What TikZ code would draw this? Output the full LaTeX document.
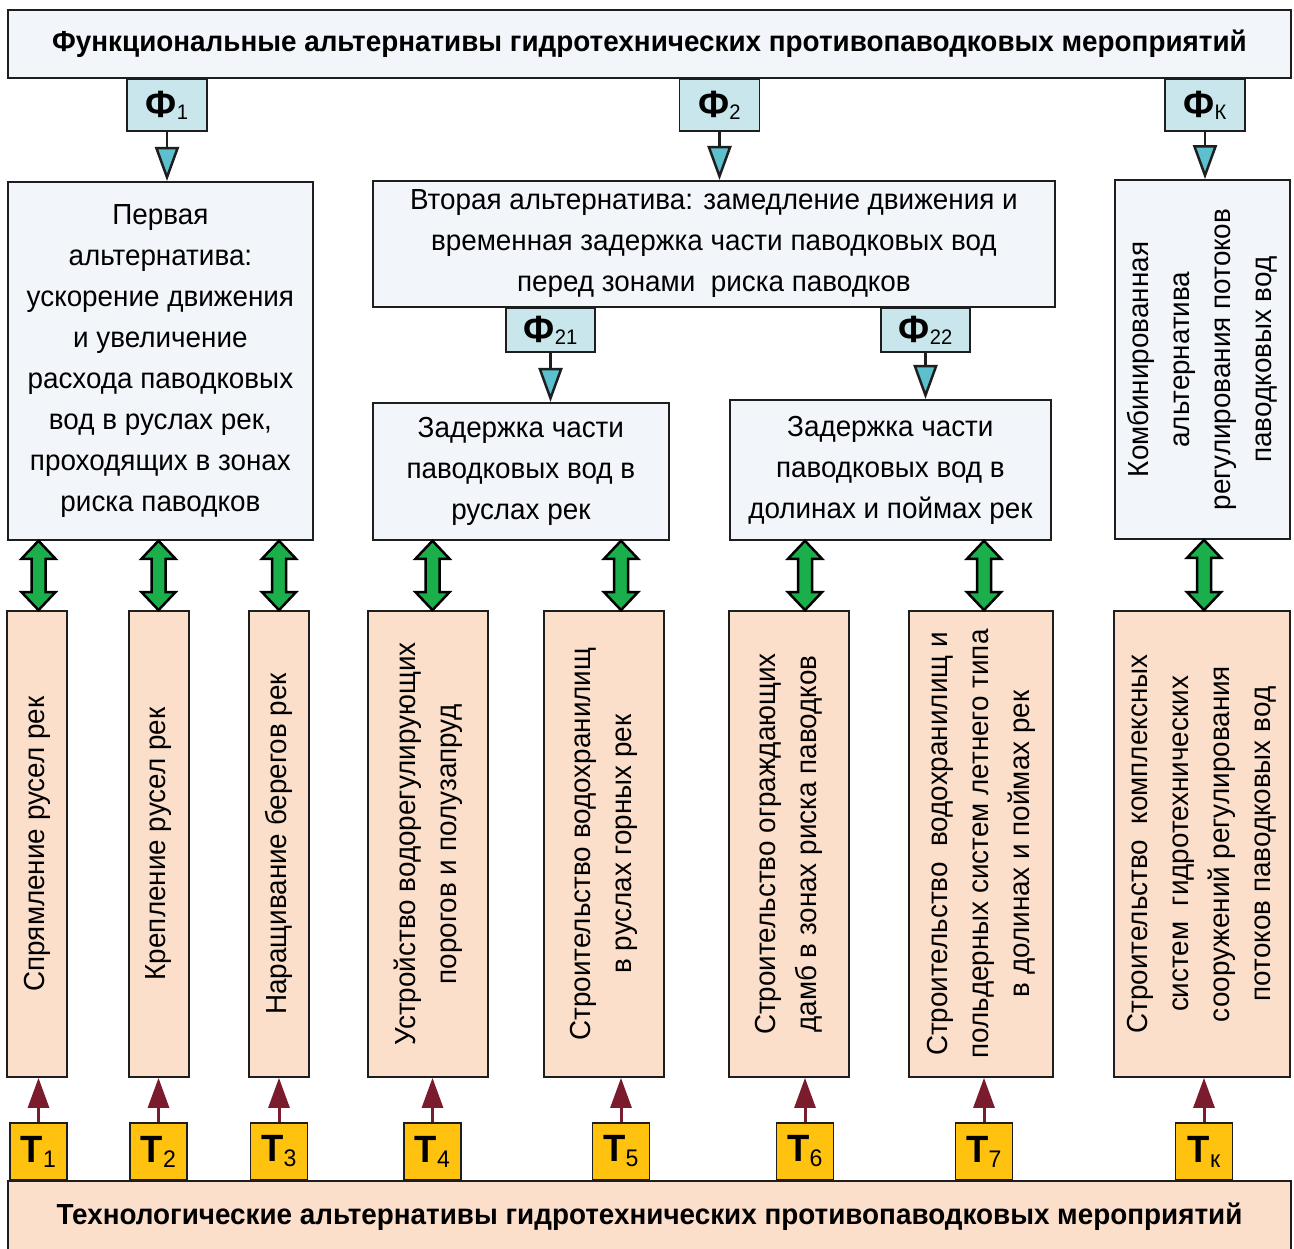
\documentclass[tikz,border=0pt]{standalone}
\usepackage{fontspec}
\setmainfont{Liberation Sans}[FakeStretch=0.96]
\usetikzlibrary{arrows.meta,calc}

\definecolor{linegray}{HTML}{1E1E1E}
\definecolor{paleblue}{HTML}{F2F6FA}
\definecolor{lightcyan}{HTML}{C8E6EC}
\definecolor{arrowcyan}{HTML}{5CC0CE}
\definecolor{peach}{HTML}{FCDFCB}
\definecolor{amber}{HTML}{FFC20E}
\definecolor{arrowgreen}{HTML}{1BAF4B}
\definecolor{wine}{HTML}{7A1B2E}

\newcommand\bodyfont{\fontsize{29}{41}\selectfont}
\newcommand\headfont{\fontsize{29}{32}\selectfont\bfseries}
\newcommand\flabel[2]{{\fontsize{38}{38}\selectfont\bfseries #1}\raisebox{-2pt}{\fontsize{21}{21}\selectfont #2}}
\newcommand\tlabel[2]{{\fontsize{38}{38}\selectfont\bfseries #1}\raisebox{-5pt}{\fontsize{24}{24}\selectfont #2}}

\begin{document}
\begin{tikzpicture}[x=1pt,y=-1pt,
    frame/.style={draw=linegray,line width=1.8pt,inner sep=0pt},
    headbox/.style={frame,anchor=north west,font=\headfont},
    altbox/.style={frame,fill=paleblue,anchor=north west,align=center,font=\bodyfont},
    techbox/.style={frame,fill=peach,rotate=90,align=center,font=\bodyfont,minimum width=466},
    fbox/.style={frame,fill=lightcyan,minimum width=80,minimum height=52},
    tbox/.style={frame,fill=amber,minimum width=57,minimum height=57},
    farrow/.style={draw=linegray,line width=2.5pt,-{Triangle[width=24pt,length=34pt,fill=arrowcyan]}},
    tarrow/.style={draw=wine,line width=3pt,-{Triangle[width=21pt,length=30pt]}},
    garrow/.style={draw=black,line width=2.5pt,fill=arrowgreen,line join=miter}
  ]
  \useasboundingbox (0,0) rectangle (1294,1249);
  \fill[white] (0,0) rectangle (1294,1249);
  %% top: functional alternatives
  \node[headbox,fill=paleblue,minimum width=1283,minimum height=68] (func) at (7,9)
    {Функциональные альтернативы гидротехнических противопаводковых мероприятий};
  \node[fbox] (f1) at (167,105) {\flabel{Ф}{1}};
  \node[fbox] (f2) at (719.5,105) {\flabel{Ф}{2}};
  \node[fbox] (fk) at (1205,105) {\flabel{Ф}{К}};
  %% alternatives
  \node[altbox,minimum width=305,minimum height=358] (alt1) at (7,181)
    {Первая\\альтернатива:\\ускорение движения\\и увеличение\\расхода паводковых\\вод в руслах рек,\\проходящих в зонах\\риска паводков};
  \node[altbox,minimum width=682,minimum height=126] (alt2) at (372,180)
    {Вторая альтернатива: замедление движения и\\временная задержка части паводковых вод\\перед зонами~ риска паводков};
  \node[altbox,anchor=center,rotate=90,minimum width=359,minimum height=175] (altk) at (1202.5,359.5)
    {Комбинированная\\альтернатива\\регулирования потоков\\паводковых вод};
  \node[fbox,minimum width=89,minimum height=44] (f21) at (550.5,330) {\flabel{Ф}{21}};
  \node[fbox,minimum width=89,minimum height=44] (f22) at (925.5,330) {\flabel{Ф}{22}};
  \node[altbox,minimum width=296,minimum height=137] (alt21) at (372,402)
    {Задержка части\\паводковых вод в\\руслах рек};
  \node[altbox,minimum width=321,minimum height=140] (alt22) at (729,399)
    {Задержка части\\паводковых вод в\\долинах и поймах рек};
  \foreach \f/\a in {f1/alt1.north,f2/alt2.north,fk/altk.east,f21/alt21.north,f22/alt22.north}
    \draw[farrow] (\f.south) -- (\f.south |- \a);
  %% technological measures
  \node[techbox,minimum height=60] (m1) at (37,844) {Спрямление русел рек};
  \node[techbox,minimum height=60] (m2) at (159,844) {Крепление русел рек};
  \node[techbox,minimum height=60] (m3) at (279,844) {Наращивание берегов рек};
  \node[techbox,minimum height=120] (m4) at (428,844)
    {Устройство водорегулирующих\\порогов и полузапруд};
  \node[techbox,minimum height=120] (m5) at (604,844)
    {Строительство водохранилищ\\в руслах горных рек};
  \node[techbox,minimum height=120] (m6) at (789,844)
    {Строительство ограждающих\\дамб в зонах риска паводков};
  \node[techbox,minimum height=144] (m7) at (981,844)
    {Строительство~ водохранилищ и\\польдерных систем летнего типа\\в долинах и поймах рек};
  \node[techbox,minimum height=176] (mk) at (1202,844)
    {Строительство~ комплексных\\систем~ гидротехнических\\сооружений регулирования\\потоков паводковых вод};
  %% bottom: technological alternatives
  \node[headbox,fill=peach,minimum width=1283,minimum height=72] (tech) at (7,1180)
    {Технологические альтернативы гидротехнических противопаводковых мероприятий};
  \node[tbox] (T1) at (38.5,1151.5) {\tlabel{Т}{1}};
  \node[tbox] (T2) at (158.5,1151.5) {\tlabel{Т}{2}};
  \node[tbox] (T3) at (279,1151.5) {\tlabel{Т}{3}};
  \node[tbox] (T4) at (432.5,1151.5) {\tlabel{Т}{4}};
  \node[tbox] (T5) at (621,1151.5) {\tlabel{Т}{5}};
  \node[tbox] (T6) at (805,1151.5) {\tlabel{Т}{6}};
  \node[tbox] (T7) at (984,1151.5) {\tlabel{Т}{7}};
  \node[tbox] (Tk) at (1204,1151.5) {\tlabel{Т}{к}};
  \foreach \i/\a in {1/alt1.south,2/alt1.south,3/alt1.south,4/alt21.south,5/alt21.south,6/alt22.south,7/alt22.south,k/altk.west}{
    \coordinate (up\i) at (T\i |- \a);
    \coordinate (dn\i) at (T\i |- m\i.east);
    \draw[garrow] (up\i) -- ++(17,18) -- ++(-10,0) -- ($(dn\i)+(7,-18)$) -- ++(10,0)
      -- (dn\i) -- ++(-17,-18) -- ++(10,0) -- ($(up\i)+(-7,18)$) -- ++(-10,0) -- cycle;
    \draw[tarrow] (T\i.north) -- (T\i |- m\i.west);
  }
\end{tikzpicture}
\end{document}
